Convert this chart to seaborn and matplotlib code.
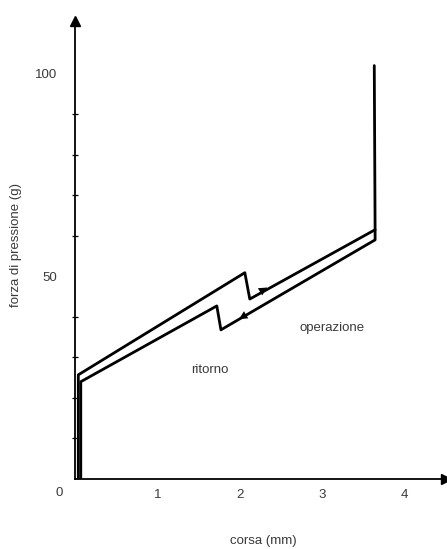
import matplotlib
matplotlib.use("Agg")
import matplotlib.pyplot as plt
import seaborn as sns

# Data (corsa in mm, forza in g)
op_x = [0.04, 0.04, 2.06, 2.12, 3.64, 3.63]
op_y = [0.0, 25.7, 50.9, 44.4, 61.5, 102.0]
ret_x = [3.64, 3.64, 1.77, 1.72, 0.07, 0.07]
ret_y = [61.5, 59.0, 36.8, 42.7, 24.0, 0.0]

x_ticks = [1, 2, 3, 4]
x_tick_labels = ["1", "2", "3", "4"]
y_major = [50, 100]
y_major_labels = ["50", "100"]
y_minor = [10, 20, 30, 40, 60, 70, 80, 90]

sns.set_theme(style="white")
plt.rcParams['font.family'] = ['Liberation Sans', 'DejaVu Sans']
txt_color = "#3a3a3a"
fs = 9.5

fig = plt.figure(figsize=(4.47, 5.49), dpi=100)
ax = fig.add_axes([75/447, 70/549, 371/447, 458/549])

sns.lineplot(x=op_x, y=op_y, sort=False, estimator=None, color="black", lw=2.0, ax=ax)
sns.lineplot(x=ret_x, y=ret_y, sort=False, estimator=None, color="black", lw=2.0, ax=ax)

# direction arrows on the loop
ax.annotate("", xy=(2.36, 47.6), xytext=(2.18, 45.4),
            arrowprops=dict(arrowstyle="-|>", color="black", lw=0, mutation_scale=15))
ax.annotate("", xy=(1.96, 39.1), xytext=(2.14, 41.3),
            arrowprops=dict(arrowstyle="-|>", color="black", lw=0, mutation_scale=15))

ax.set_xlim(0, 4.5)
ax.set_ylim(0, 113)

for s in ["top", "right"]:
    ax.spines[s].set_visible(False)
for s in ["left", "bottom"]:
    ax.spines[s].set_color("black")
    ax.spines[s].set_linewidth(1.3)

# axis arrow heads
ax.plot(4.5, 0, ">", color="black", markersize=7, clip_on=False)
ax.plot(0, 113, "^", color="black", markersize=7, clip_on=False)

ax.set_xticks(x_ticks)
ax.set_xticklabels(x_tick_labels)
ax.set_yticks(y_major)
ax.set_yticklabels(y_major_labels)
ax.set_yticks(y_minor, minor=True)
ax.tick_params(axis="both", which="major", direction="inout", length=7, width=1.0,
               colors="black", labelcolor=txt_color, labelsize=fs)
ax.tick_params(axis="x", which="major", pad=4)
ax.tick_params(axis="y", which="major", pad=9)
ax.tick_params(axis="y", which="minor", direction="inout", length=5, width=0.9,
               colors="black", left=True)

fig.text(59/447, 1 - 493/549, "0", ha="center", va="center", fontsize=fs, color=txt_color)
fig.text(263/447, 1 - 541/549, "corsa (mm)", ha="center", va="center", fontsize=fs, color=txt_color)
fig.text(16/447, 1 - 245/549, "forza di pressione (g)", ha="center", va="center",
         rotation=90, fontsize=fs, color=txt_color)

ax.text(3.12, 37.3, "operazione", ha="center", va="center", fontsize=fs, color=txt_color)
ax.text(1.64, 26.9, "ritorno", ha="center", va="center", fontsize=fs, color=txt_color)

fig.savefig("out.png", dpi=100, facecolor="white")
